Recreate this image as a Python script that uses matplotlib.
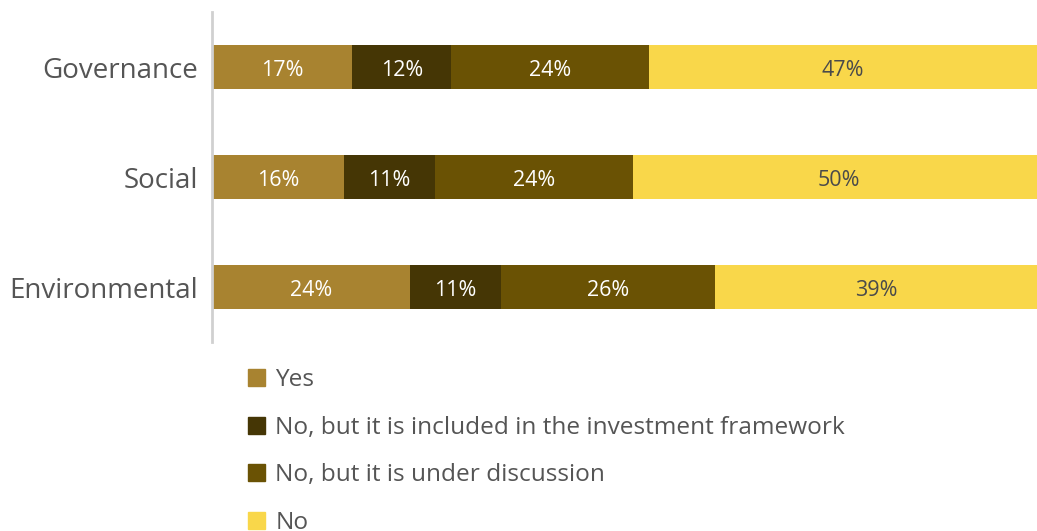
import matplotlib.pyplot as plt
from matplotlib.patches import Rectangle

# survey shares per ESG pillar (percent)
pillars = ["Governance", "Social", "Environmental"]
answers = ["Yes",
           "No, but it is included in the investment framework",
           "No, but it is under discussion",
           "No"]
yes = [17, 16, 24]
included = [12, 11, 11]
discussion = [24, 24, 26]
no = [47, 50, 39]

colors = ["#A88330", "#453605", "#6A5204", "#F9D74A"]
label_colors = ["white", "white", "white", "#4a4a4a"]

plt.rcParams["font.family"] = ["Open Sans", "DejaVu Sans"]

fig = plt.figure(figsize=(10.37, 5.31), dpi=100)
ax = fig.add_axes([212 / 1037, 189 / 531, 825 / 1037, 330 / 531])

ypos = list(range(len(pillars)))
left = [0] * len(pillars)
for series, col, tcol in zip([yes, included, discussion, no], colors, label_colors):
    bars = ax.barh(ypos, series, left=left, height=0.4, color=col, clip_on=True)
    for b, v in zip(bars, series):
        cx = b.get_x() + b.get_width() / 2
        ax.text(cx, b.get_y() + b.get_height() / 2 + 0.03, f"{v}%", ha="center", va="center",
                color=tcol, fontsize=15.5)
    left = [l + v for l, v in zip(left, series)]

ax.set_xlim(0, 100)
ax.set_ylim(2.5, -0.5)
ax.set_yticks(ypos)
ax.set_yticklabels(pillars, fontsize=20, color="#555555")
ax.tick_params(axis="y", length=0, pad=10)
ax.set_xticks([])
for s in ["top", "right", "bottom"]:
    ax.spines[s].set_visible(False)
ax.spines["left"].set_color("#d0d0d0")
ax.spines["left"].set_linewidth(2)

handles = [Rectangle((0, 0), 1, 1, color=c) for c in colors]
fig.legend(handles, answers, loc="upper left", bbox_to_anchor=(248 / 1037, 1 - 368 / 531),
           frameon=False, fontsize=17.6, handlelength=0.7, handleheight=0.7,
           handletextpad=0.42, labelspacing=0.97, labelcolor="#555555",
           borderaxespad=0, borderpad=0)

fig.savefig("out.png", dpi=100)
